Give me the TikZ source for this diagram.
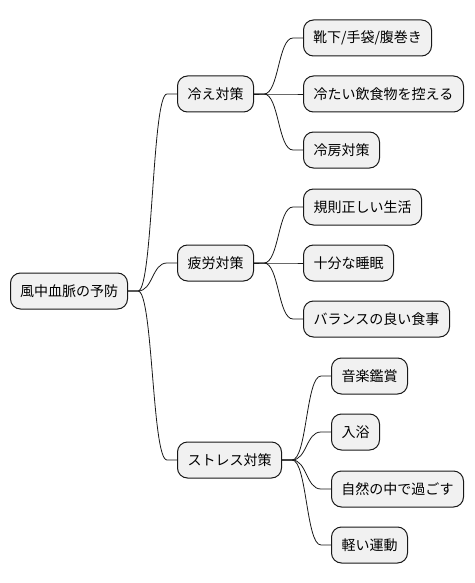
\documentclass[tikz,border=0pt]{standalone}
\usepackage{fontspec}
\setmainfont{Noto Sans CJK JP}
\definecolor{mmfill}{HTML}{F1F1F1}
\definecolor{mmline}{HTML}{181818}
\tikzset{
  mm/.style={draw=mmline, fill=mmfill, rounded corners=10pt, line width=1pt,
    minimum height=36pt, inner sep=0pt, anchor=west, align=center,
    font=\fontsize{14pt}{16pt}\selectfont},
  link/.style={line width=0.8pt, draw=mmline}
}
\newcommand\mmlink[2]{\draw[link] (#1.east) -- ++(10,0) .. controls +(15,0) and +(-15,0) .. ([xshift=-10pt]#2.west) -- (#2.west);}
\begin{document}
\begin{tikzpicture}[x=1pt,y=-1pt]
\useasboundingbox (0,0) rectangle (474,583);
\node[mm, minimum width=117pt] (root) at (10,291) {風中血脈の予防};
\node[mm, minimum width=76pt] (hie) at (177,94) {冷え対策};
\node[mm, minimum width=76pt] (hiro) at (177,263) {疲労対策};
\node[mm, minimum width=104pt] (stress) at (177,460) {ストレス対策};
\node[mm, minimum width=128pt] (a1) at (303,38) {靴下/手袋/腹巻き};
\node[mm, minimum width=160pt] (a2) at (303,94) {冷たい飲食物を控える};
\node[mm, minimum width=76pt] (a3) at (303,150) {冷房対策};
\node[mm, minimum width=118pt] (b1) at (303,207) {規則正しい生活};
\node[mm, minimum width=90pt] (b2) at (303,263) {十分な睡眠};
\node[mm, minimum width=146pt] (b3) at (303,319) {バランスの良い食事};
\node[mm, minimum width=76pt] (c1) at (331,376) {音楽鑑賞};
\node[mm, minimum width=48pt] (c2) at (331,432) {入浴};
\node[mm, minimum width=132pt] (c3) at (331,489) {自然の中で過ごす};
\node[mm, minimum width=76pt] (c4) at (331,545) {軽い運動};
\mmlink{root}{hie}
\mmlink{root}{hiro}
\mmlink{root}{stress}
\mmlink{hie}{a1}
\mmlink{hie}{a2}
\mmlink{hie}{a3}
\mmlink{hiro}{b1}
\mmlink{hiro}{b2}
\mmlink{hiro}{b3}
\mmlink{stress}{c1}
\mmlink{stress}{c2}
\mmlink{stress}{c3}
\mmlink{stress}{c4}
\end{tikzpicture}
\end{document}
